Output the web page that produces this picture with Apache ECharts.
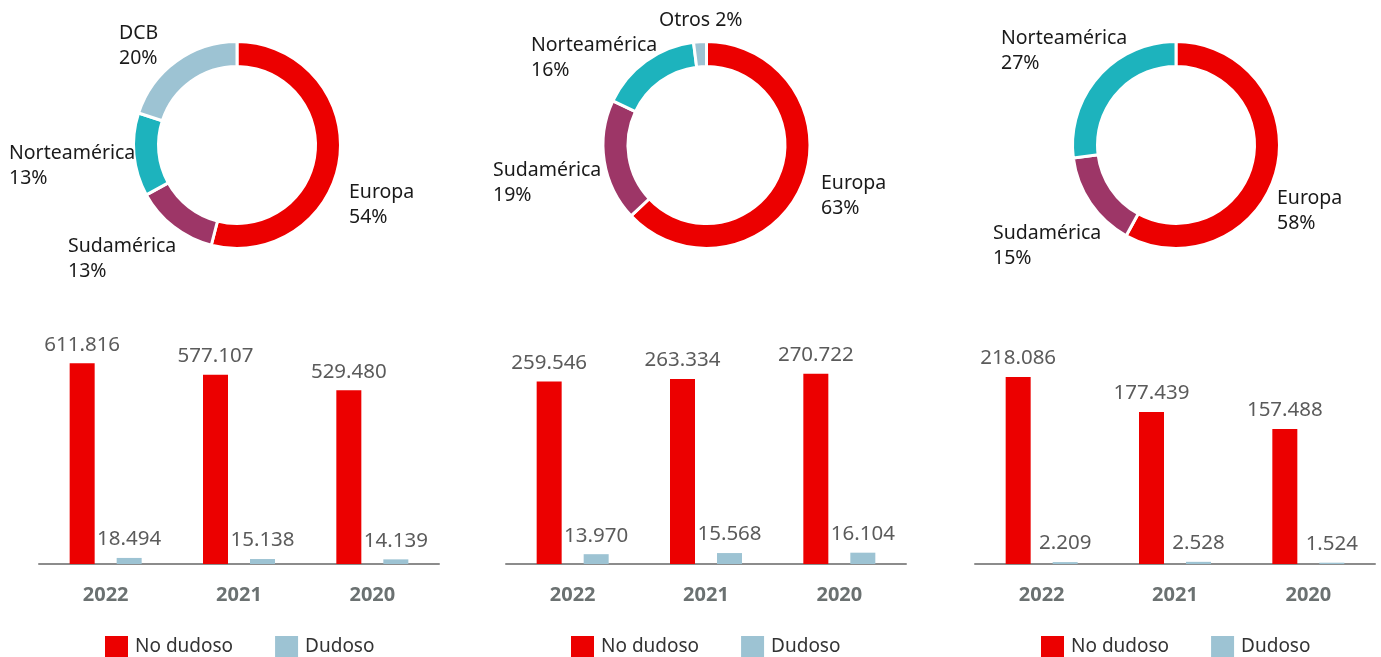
<!DOCTYPE html>
<html>
<head>
<meta charset="utf-8">
<script src="https://cdn.jsdelivr.net/npm/echarts@6/dist/echarts.min.js"></script>
<style>
  html, body { margin: 0; padding: 0; background: #fff; }
  #chart { width: 1381px; height: 657px; }
</style>
</head>
<body>
<div id="chart"></div>
<script>
// Regional breakdown (share, %) for each of the three portfolios
const regionsA = ['Europa', 'Sudamérica', 'Norteamérica', 'DCB'];
const sharesA = [54, 13, 13, 20];
const regionsB = ['Europa', 'Sudamérica', 'Norteamérica', 'Otros'];
const sharesB = [63, 19, 16, 2];
const regionsC = ['Europa', 'Sudamérica', 'Norteamérica'];
const sharesC = [58, 15, 27];

// Yearly balances, performing vs. doubtful
const years = ['2022', '2021', '2020'];
const noDudosoA = [611816, 577107, 529480];
const dudosoA = [18494, 15138, 14139];
const noDudosoB = [259546, 263334, 270722];
const dudosoB = [13970, 15568, 16104];
const noDudosoC = [218086, 177439, 157488];
const dudosoC = [2209, 2528, 1524];

const RED = '#EC0000';
const LIGHT_BLUE = '#9DC3D3';
const TEAL = '#1DB3BD';
const PURPLE = '#9D3667';
const FONT = '"Noto Sans", sans-serif';

const regionColors = {
  'Europa': RED,
  'Sudamérica': PURPLE,
  'Norteamérica': TEAL,
  'DCB': LIGHT_BLUE,
  'Otros': LIGHT_BLUE
};

// Label anchors (left edge, vertical middle) for each donut
const donutCenters = [[237, 145], [706.5, 145], [1176, 145]];
const donutLabelAnchors = [
  { 'Europa': [349, 205], 'Sudamérica': [68, 259], 'Norteamérica': [9, 165.5], 'DCB': [119, 46] },
  { 'Europa': [821, 196], 'Sudamérica': [493, 182.5], 'Norteamérica': [531, 57.5], 'Otros': [659, 20] },
  { 'Europa': [1277, 211], 'Sudamérica': [993, 245.5], 'Norteamérica': [1001, 51] }
];
const singleLineLabels = ['Otros'];

function thousands(v) {
  return String(v).replace(/\B(?=(\d{3})+(?!\d))/g, '.');
}

function donut(idx, names, values) {
  return {
    type: 'pie',
    center: donutCenters[idx],
    radius: [78.5, 103.5],
    startAngle: 90,
    clockwise: true,
    avoidLabelOverlap: false,
    silent: true,
    data: names.map((n, i) => ({
      name: n,
      value: values[i],
      itemStyle: { color: regionColors[n] }
    })),
    itemStyle: { borderColor: '#fff', borderWidth: 3 },
    label: {
      show: true,
      position: 'outside',
      fontFamily: FONT,
      fontSize: 19.5,
      lineHeight: 25,
      color: '#1a1a1a',
      formatter: p => singleLineLabels.includes(p.name)
        ? p.name + ' ' + p.value + '%'
        : p.name + '\n' + p.value + '%'
    },
    labelLine: { show: false },
    labelLayout: p => {
      const a = donutLabelAnchors[idx][names[p.dataIndex]];
      return { x: a[0], y: a[1], align: 'left', verticalAlign: 'middle' };
    }
  };
}

const gridLefts = [39, 506, 975];
const yMaxes = [750000, 350000, 287000];
const legendLefts = [105, 571, 1041];

const barLabel = {
  show: true,
  position: 'top',
  distance: 8,
  fontFamily: FONT,
  fontSize: 20.5,
  color: '#5b5b5b',
  formatter: p => thousands(p.value)
};

function bars(idx, noDudoso, dudoso) {
  return [
    {
      type: 'bar', name: 'No dudoso', xAxisIndex: idx, yAxisIndex: idx,
      data: noDudoso, barWidth: 25, barGap: '88%',
      itemStyle: { color: RED }, label: barLabel, silent: true
    },
    {
      type: 'bar', name: 'Dudoso', xAxisIndex: idx, yAxisIndex: idx,
      data: dudoso, barWidth: 25, barGap: '88%',
      itemStyle: { color: LIGHT_BLUE }, label: barLabel, silent: true
    }
  ];
}

const chart = echarts.init(document.getElementById('chart'), null, { renderer: 'canvas' });

chart.setOption({
  animation: false,
  backgroundColor: '#fff',
  textStyle: { fontFamily: FONT },
  grid: gridLefts.map(l => ({ left: l, width: 400, top: 318, height: 246 })),
  xAxis: gridLefts.map((l, i) => ({
    type: 'category',
    gridIndex: i,
    data: years,
    axisLine: { show: true, lineStyle: { color: '#8c8c8c', width: 2 } },
    axisTick: { show: false },
    axisLabel: {
      fontFamily: FONT, fontSize: 20, fontWeight: 'bold',
      color: '#6b7171', margin: 21
    }
  })),
  yAxis: yMaxes.map((m, i) => ({
    type: 'value', gridIndex: i, min: 0, max: m,
    show: false, splitLine: { show: false }
  })),
  legend: legendLefts.map(l => ({
    left: l, top: 636,
    data: ['No dudoso', 'Dudoso'],
    icon: 'rect',
    itemWidth: 23, itemHeight: 22, itemGap: 42,
    padding: 0,
    selectedMode: false,
    textStyle: { fontFamily: FONT, fontSize: 19, color: '#333', padding: [2, 0, 0, 2] }
  })),
  series: [
    donut(0, regionsA, sharesA),
    donut(1, regionsB, sharesB),
    donut(2, regionsC, sharesC),
    ...bars(0, noDudosoA, dudosoA),
    ...bars(1, noDudosoB, dudosoB),
    ...bars(2, noDudosoC, dudosoC)
  ]
});
</script>
</body>
</html>
